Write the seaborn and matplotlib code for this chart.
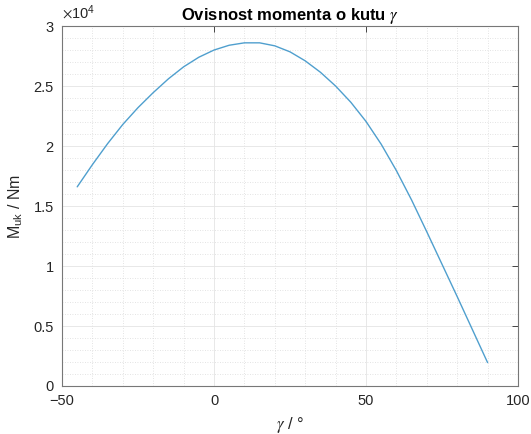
import numpy as np
import pandas as pd
import matplotlib
matplotlib.use('Agg')
import matplotlib.pyplot as plt
import seaborn as sns
from matplotlib.ticker import MultipleLocator

# kut gamma (deg) i moment (Nm)
gamma = [-45, -40, -35, -30, -25, -20, -15, -10, -5, 0, 5, 10, 15, 20,
         25, 30, 35, 40, 45, 50, 55, 60, 65, 70, 75, 80, 85, 90]
moment = [16600, 18450, 20200, 21800, 23200, 24450, 25600, 26600, 27400,
          28000, 28400, 28600, 28600, 28350, 27850, 27100, 26150, 25000,
          23650, 22050, 20150, 17950, 15500, 12850, 10150, 7450, 4700, 1950]

dat = pd.DataFrame({'gamma': gamma, 'M': moment})

sns.set_style('white')
plt.rcParams['font.family'] = ['Liberation Sans', 'DejaVu Sans']
plt.rcParams['mathtext.fontset'] = 'stix'

fig = plt.figure(figsize=(5.31, 4.34), dpi=100)
ax = fig.add_axes([0.1168, 0.1106, 0.8587, 0.8294])

sns.lineplot(data=dat, x='gamma', y='M', ax=ax, color='#4f9fce', linewidth=1.0)

ax.set_xlim(-50, 100)
ax.set_ylim(0, 30000)
ax.xaxis.set_major_locator(MultipleLocator(50))
ax.xaxis.set_minor_locator(MultipleLocator(10))
ax.yaxis.set_major_locator(MultipleLocator(5000))
ax.yaxis.set_minor_locator(MultipleLocator(1000))
ax.set_yticks([0, 5000, 10000, 15000, 20000, 25000, 30000])
ax.set_yticklabels(['0', '0.5', '1', '1.5', '2', '2.5', '3'])

ax.grid(which='major', color='#e4e4e4', linewidth=0.6, linestyle='-')
ax.grid(which='minor', color='#dadada', linewidth=0.6, linestyle=(0, (1, 2)))
ax.set_axisbelow(True)

ax.tick_params(which='major', direction='in', length=4, width=0.7,
               top=True, right=True, color='#444444',
               labelsize=10.5, labelcolor='#262626', pad=6)
ax.tick_params(which='minor', length=0)
for s in ax.spines.values():
    s.set_color('#777777')
    s.set_linewidth(0.8)

ax.text(0.0, 1.01, r'$\times$10$^{\mathregular{4}}$', transform=ax.transAxes,
        fontsize=10.5, color='#262626', ha='left', va='bottom')

ax.set_title(r'Ovisnost momenta o kutu $\gamma$', fontsize=12,
             fontweight='bold', color='black', pad=4)
ax.set_xlabel(r'$\gamma$ / °', fontsize=12, color='#262626', labelpad=5)
ax.set_ylabel(r'M$_{\mathregular{uk}}$ / Nm', fontsize=11.5, color='#262626',
              labelpad=6)

fig.savefig('out.png', dpi=100)
